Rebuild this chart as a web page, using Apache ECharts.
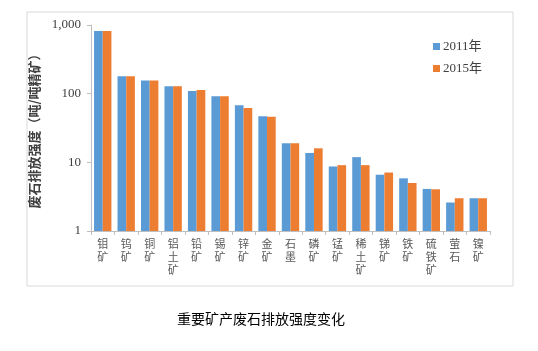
<!DOCTYPE html>
<html>
<head>
<meta charset="utf-8">
<script src="https://cdn.jsdelivr.net/npm/echarts@6/dist/echarts.min.js"></script>
<style>
  html, body { margin: 0; padding: 0; background: #fff; }
  #chart { width: 538px; height: 351px; }
</style>
</head>
<body>
<div id="chart"></div>
<script>
// categories and values (吨/吨精矿)
const categories = ['钼矿', '钨矿', '铜矿', '铝土矿', '铅矿', '锡矿', '锌矿', '金矿', '石墨',
    '磷矿', '锰矿', '稀土矿', '锑矿', '铁矿', '硫铁矿', '萤石', '镍矿'];
const values2011 = [820, 180, 155, 128, 109, 92, 68, 47, 19, 13.7, 8.7, 11.9, 6.6, 5.85, 4.1, 2.6, 3.0];
const values2015 = [820, 180, 155, 128, 113, 92, 62, 46, 19, 16, 9.1, 9.1, 7.1, 5.0, 4.05, 3.0, 3.0];
const seriesNames = ['2011年', '2015年'];
const yTicks = [1, 10, 100, 1000];

const cjk = '"Noto Sans CJK SC", sans-serif';
const serif = '"Liberation Serif", "Times New Roman", "Noto Sans CJK SC", serif';

const chart = echarts.init(document.getElementById('chart'));

const option = {
    animation: false,
    graphic: [
        {
            type: 'rect',
            shape: { x: 27, y: 12, width: 486, height: 274 },
            style: { fill: 'none', stroke: '#d9d9d9', lineWidth: 1 }
        },
        {
            type: 'text',
            left: 177, top: 312,
            style: { text: '重要矿产废石排放强度变化', font: '14px ' + cjk, fill: '#000' }
        }
    ],
    legend: {
        orient: 'vertical',
        left: 428, top: 35,
        itemWidth: 7, itemHeight: 7, itemGap: 9,
        icon: 'rect',
        textStyle: { fontFamily: serif, fontSize: 13, color: '#404040', padding: [0, 0, 0, -2] },
        data: seriesNames
    },
    grid: { left: 91, right: 48, top: 25, bottom: 120, containLabel: false },
    xAxis: {
        type: 'category',
        data: categories,
        axisLine: { lineStyle: { color: '#bfbfbf' } },
        axisTick: { show: true, alignWithLabel: false, length: 4, lineStyle: { color: '#bfbfbf' } },
        axisLabel: {
            interval: 0,
            fontFamily: cjk,
            fontSize: 11,
            color: '#595959',
            lineHeight: 13,
            margin: 6,
            formatter: v => v.split('').join('\n')
        }
    },
    yAxis: {
        type: 'log',
        logBase: 10,
        min: 1,
        max: 1000,
        name: '废石排放强度（吨/吨精矿）',
        nameLocation: 'middle',
        nameGap: 47,
        nameTextStyle: { fontFamily: cjk, fontSize: 13, fontWeight: 'bold', color: '#404040' },
        axisLine: { show: true, lineStyle: { color: '#bfbfbf' } },
        axisTick: { show: true, length: 4, lineStyle: { color: '#bfbfbf' } },
        splitLine: { show: false },
        axisLabel: {
            fontFamily: serif,
            fontSize: 13,
            color: '#404040',
            margin: 10,
            formatter: v => yTicks.includes(Math.round(v)) ? Math.round(v).toLocaleString('en-US') : ''
        }
    },
    series: [
        {
            name: seriesNames[0],
            type: 'bar',
            data: values2011,
            barGap: '0%',
            barCategoryGap: '26%',
            itemStyle: { color: '#5b9bd5' }
        },
        {
            name: seriesNames[1],
            type: 'bar',
            data: values2015,
            itemStyle: { color: '#ed7d31' }
        }
    ]
};

chart.setOption(option);
</script>
</body>
</html>
